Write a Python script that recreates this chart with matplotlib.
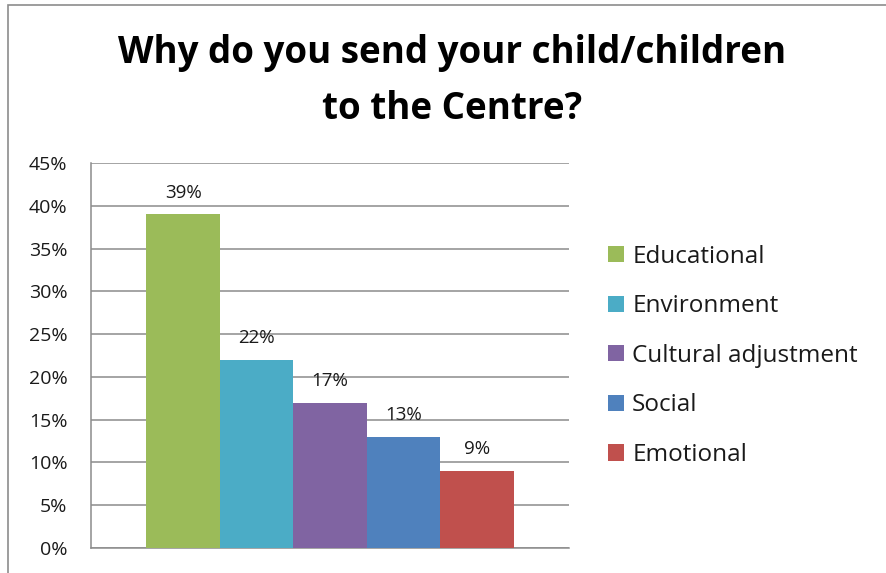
import matplotlib.pyplot as plt
from matplotlib.patches import Rectangle
from matplotlib.ticker import PercentFormatter

reasons = ['Educational', 'Environment', 'Cultural adjustment', 'Social', 'Emotional']
shares = [0.39, 0.22, 0.17, 0.13, 0.09]
colors = ['#9BBB59', '#4BACC6', '#8064A2', '#4F81BD', '#C0504D']

plt.rcParams['font.family'] = ['Open Sans', 'DejaVu Sans']

fig = plt.figure(figsize=(8.86, 5.73), dpi=100)
fig.patch.set_facecolor('white')

# chart area frame (runs off the right and bottom edge)
fig.patches.append(Rectangle((8/886, -0.1), 1.2, 1.1 - 5/573, transform=fig.transFigure,
                             fill=False, edgecolor='#8c8c8c', linewidth=1.2))

ax = fig.add_axes([91/886, 25/573, 478/886, 385/573])

width = 0.1536
n = len(reasons)
bars = []
for i, (name, val, c) in enumerate(zip(reasons, shares, colors)):
    x = (i - (n - 1) / 2) * width
    b = ax.bar(x, val, width, color=c, label=name, zorder=3)
    ax.bar_label(b, labels=['{:.0%}'.format(val)], padding=9, fontsize=13.5, color='#1a1a1a')
    bars.append(b)

ax.set_xlim(-0.5, 0.5)
ax.set_ylim(0, 0.45)
ax.set_yticks([i * 0.05 for i in range(10)])
ax.yaxis.set_major_formatter(PercentFormatter(1.0, decimals=0))
ax.set_xticks([])
ax.tick_params(axis='y', length=0, pad=17, labelsize=14, labelcolor='#1a1a1a')
ax.grid(axis='y', color='#8c8c8c', linewidth=1.1, zorder=0)
for s in ['top', 'right']:
    ax.spines[s].set_visible(False)
for s in ['left', 'bottom']:
    ax.spines[s].set_color('#8c8c8c')
    ax.spines[s].set_linewidth(1.1)

fig.text(452/886, 1 - 81/573, 'Why do you send your child/children\nto the Centre?',
         ha='center', va='center', fontsize=26.5, fontweight='bold', linespacing=1.6)

fig.legend(handles=bars, labels=reasons, loc='upper left', bbox_to_anchor=(586/886, 1 - 223/573),
           frameon=False, fontsize=17.5, handlelength=0.65, handleheight=0.65, handletextpad=0.35,
           labelspacing=1.05, labelcolor='#1a1a1a')

fig.savefig('out.png', dpi=100)
